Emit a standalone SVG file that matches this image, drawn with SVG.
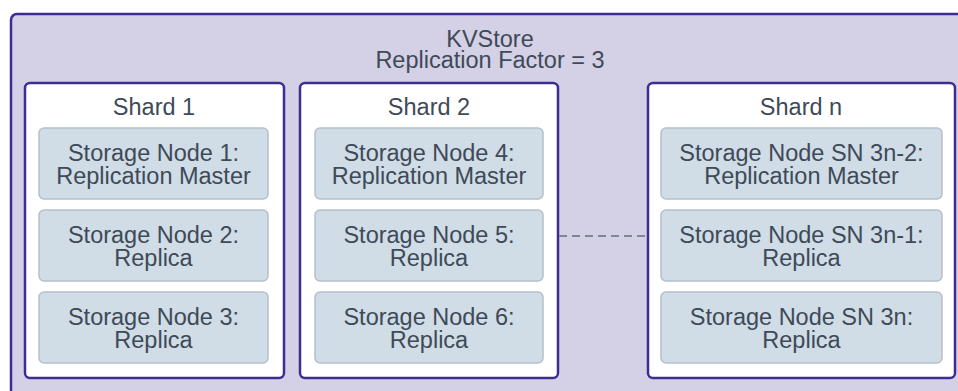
<svg xmlns="http://www.w3.org/2000/svg" width="958" height="391" viewBox="0 0 958 391">
<style>
text{font-family:"Liberation Sans",Arial,sans-serif;font-size:23.5px;fill:#3e4a57;text-anchor:middle}
.outer{fill:#d4d0e5;stroke:#3d2c94;stroke-width:2.5}
.shard{fill:#ffffff;stroke:#3d2c94;stroke-width:2.5}
.node{fill:#d0dce6;stroke:#b4c0ca;stroke-width:1.5}
.conn{stroke:#7d8792;stroke-width:2;stroke-dasharray:8 5;fill:none}
</style>
<g id="kvstore">
<rect class="outer" x="11" y="14" width="980" height="400" rx="6"/>
<text x="490" y="47">KVStore</text>
<text x="490" y="68">Replication Factor = 3</text>
</g>
<g id="shard1">
<rect class="shard" x="25" y="83" width="259" height="295" rx="5"/>
<text x="154" y="115">Shard 1</text>
</g>
<g id="shard2">
<rect class="shard" x="300" y="83" width="258" height="295" rx="5"/>
<text x="429" y="115">Shard 2</text>
</g>
<g id="shardn">
<rect class="shard" x="648" y="83" width="307" height="295" rx="5"/>
<text x="801" y="115">Shard n</text>
</g>
<g id="sn1">
<rect class="node" x="39" y="128" width="229" height="71" rx="5"/>
<text x="153.5" y="161">Storage Node 1:</text>
<text x="153.5" y="184">Replication Master</text>
</g>
<g id="sn2">
<rect class="node" x="39" y="210" width="229" height="71" rx="5"/>
<text x="153.5" y="243">Storage Node 2:</text>
<text x="153.5" y="266">Replica</text>
</g>
<g id="sn3">
<rect class="node" x="39" y="292" width="229" height="71" rx="5"/>
<text x="153.5" y="325">Storage Node 3:</text>
<text x="153.5" y="348">Replica</text>
</g>
<g id="sn4">
<rect class="node" x="315" y="128" width="228" height="71" rx="5"/>
<text x="429" y="161">Storage Node 4:</text>
<text x="429" y="184">Replication Master</text>
</g>
<g id="sn5">
<rect class="node" x="315" y="210" width="228" height="71" rx="5"/>
<text x="429" y="243">Storage Node 5:</text>
<text x="429" y="266">Replica</text>
</g>
<g id="sn6">
<rect class="node" x="315" y="292" width="228" height="71" rx="5"/>
<text x="429" y="325">Storage Node 6:</text>
<text x="429" y="348">Replica</text>
</g>
<g id="sn3n2">
<rect class="node" x="661" y="128" width="281" height="71" rx="5"/>
<text x="801.5" y="161">Storage Node SN 3n-2:</text>
<text x="801.5" y="184">Replication Master</text>
</g>
<g id="sn3n1">
<rect class="node" x="661" y="210" width="281" height="71" rx="5"/>
<text x="801.5" y="243">Storage Node SN 3n-1:</text>
<text x="801.5" y="266">Replica</text>
</g>
<g id="sn3n">
<rect class="node" x="661" y="292" width="281" height="71" rx="5"/>
<text x="801.5" y="325">Storage Node SN 3n:</text>
<text x="801.5" y="348">Replica</text>
</g>
<g id="connectors">
<line class="conn" x1="559" y1="236" x2="647" y2="236"/>
</g>
</svg>
